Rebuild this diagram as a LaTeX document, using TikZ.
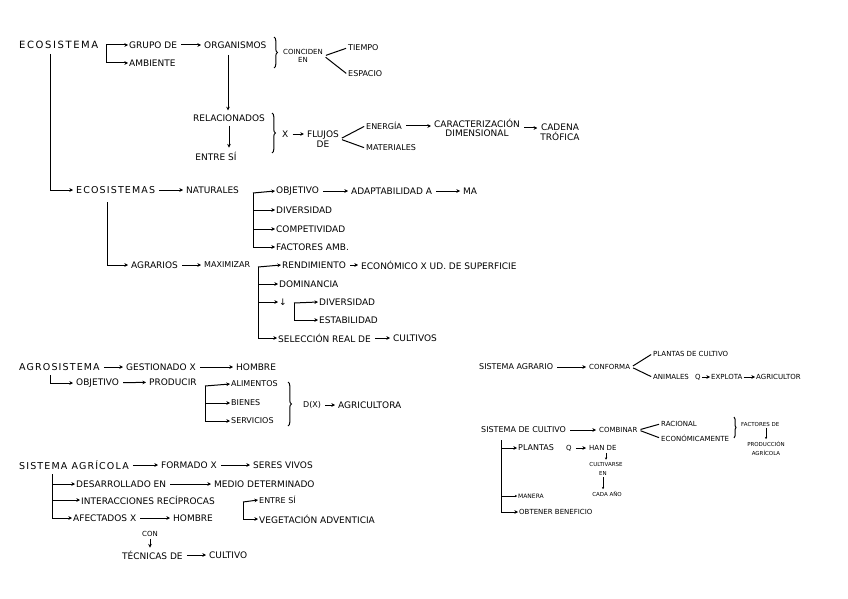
\documentclass[tikz,border=0pt]{standalone}
\usepackage{fontspec}
\setmainfont{DejaVu Sans}
\newfontfamily\titlefont[LetterSpace=12]{DejaVu Sans}
\newfontfamily\bigtitlefont[LetterSpace=16]{DejaVu Sans}
\usetikzlibrary{arrows.meta,decorations.pathreplacing,calc}
\tikzset{
 txt/.style={inner sep=1pt, anchor=west, font=\fontsize{9}{9.5}\selectfont},
 ctr/.style={txt, anchor=center, align=center},
 ttl/.style={inner sep=1pt, anchor=west, font=\titlefont\fontsize{9.5}{10}\selectfont},
 mid/.style={txt, font=\fontsize{8}{8.5}\selectfont},
 sml/.style={txt, font=\fontsize{7}{7.5}\selectfont},
 tny/.style={txt, font=\fontsize{5.5}{6}\selectfont},
 arr/.style={-{Stealth[length=3.6pt,width=3.6pt]}, line width=1pt},
 sarr/.style={arr, shorten <=3pt, shorten >=2pt},
 ln/.style={line width=1pt},
 brc/.style={decorate, decoration={brace,amplitude=3.5pt}, line width=1pt},
 smallarr/.style={-{Stealth[length=2.4pt,width=2.4pt]}, line width=0.8pt, shorten <=1pt, shorten >=1pt},
}
\begin{document}
\begin{tikzpicture}[x=1pt,y=-1pt]
\fill[white] (0,0) rectangle (848,599);
\useasboundingbox (0,0) rectangle (848,599);

% ---------------- ECOSISTEMA ----------------
\node[inner sep=1pt, anchor=west, font=\bigtitlefont\fontsize{10}{10.5}\selectfont] (eco) at (18,45) {ECOSISTEMA};
\node[txt] (grupo) at (128,45) {GRUPO DE};
\node[txt] (amb) at (128,63) {AMBIENTE};
\node[txt] (org) at (203,45) {ORGANISMOS};
\coordinate (k1) at (106,45);
\coordinate (k2) at (106,63);
\draw[ln] (k1) -- (k2);
\draw[arr] (k1) -- (grupo.west);
\draw[arr] (k2) -- (amb.west);
\draw[sarr] (grupo) -- (org);
\draw[brc] (274,37) -- (274,68);
\node[ctr, font=\fontsize{7}{7.5}\selectfont] (coin) at (303,56) {COINCIDEN\\EN};
\node[mid] (tiempo) at (347,48) {TIEMPO};
\node[mid] (espacio) at (347,74) {ESPACIO};
\draw[ln, shorten <=2pt, shorten >=1pt] (coin.east) -- (tiempo.west);
\draw[ln, shorten <=2pt, shorten >=1pt] (coin.east) -- (espacio.west);

\coordinate (o1) at (228,55);
\node[ctr] (rel) at (229,118) {RELACIONADOS};
\draw[arr, shorten >=3pt] (o1) -- (o1 |- rel.north);
\node[ctr] (entre1) at (216,156) {ENTRE SÍ};
\draw[arr, shorten <=3pt, shorten >=3pt] (rel.south) -- (rel.south |- entre1.north);
\draw[brc] (272,113) -- (272,153);
\node[txt] (x1) at (281,134) {X};
\node[ctr] (flujos) at (323,139) {FLUJOS\\DE};
\draw[sarr] (x1.east) -- (x1.east -| flujos.west);
\node[mid] (energia) at (365,126) {ENERGÍA};
\node[mid] (mat) at (365,148) {MATERIALES};
\draw[ln, shorten <=2pt, shorten >=1pt] (flujos.east) -- (energia.west);
\draw[ln, shorten <=2pt, shorten >=1pt] (flujos.east) -- (mat.west);
\node[ctr] (carac) at (477,128) {CARACTERIZACIÓN\\DIMENSIONAL};
\node[ctr] (cadena) at (560,132) {CADENA\\TRÓFICA};
\draw[sarr] (energia.east) -- (energia.east -| carac.west);
\draw[sarr] (carac.east) -- (carac.east -| cadena.west);

% ---------------- ECOSISTEMAS ----------------
\node[ttl] (ecos) at (75,190) {ECOSISTEMAS};
\coordinate (e1) at (50,54);
\draw[arr, shorten >=2pt] (e1) |- (ecos.west);
\node[txt] (nat) at (185,190) {NATURALES};
\draw[sarr] (ecos) -- (nat);
\coordinate (bx) at (253,193);
\node[txt] (obj1) at (275,191) {OBJETIVO};
\node[txt] (div1) at (275,210) {DIVERSIDAD};
\node[txt] (comp) at (275,229) {COMPETIVIDAD};
\node[txt] (fact) at (275,247) {FACTORES AMB.};
\draw[ln] (bx) -- (bx |- fact.west);
\draw[arr] (bx) -- (obj1.west);
\foreach \n in {div1,comp,fact} \draw[arr] (\n.west -| bx) -- (\n.west);
\node[txt] (adapt) at (350,191) {ADAPTABILIDAD A};
\node[txt] (ma) at (462,191) {MA};
\draw[sarr] (obj1) -- (adapt);
\draw[sarr] (adapt) -- (ma);

\node[txt] (agr) at (130,265) {AGRARIOS};
\coordinate (e2) at (107,202);
\draw[arr, shorten >=2pt] (e2) |- (agr.west);
\node[mid] (max) at (203,265) {MAXIMIZAR};
\draw[sarr] (agr) -- (max);
\coordinate (by) at (258,267);
\node[txt] (rend) at (281,265) {RENDIMIENTO};
\node[txt] (econ) at (360,265) {ECONÓMICO X UD. DE SUPERFICIE};
\node[txt] (dom) at (278,284) {DOMINANCIA};
\node[txt] (dn) at (278,302) {↓};
\node[txt] (div2) at (318,302) {DIVERSIDAD};
\node[txt] (est) at (318,320) {ESTABILIDAD};
\node[txt] (sel) at (277,338) {SELECCIÓN REAL DE};
\node[txt] (cult) at (392,338) {CULTIVOS};
\draw[ln] (by) -- (by |- sel.west);
\draw[arr] (by) -- (rend.west);
\foreach \n in {dom,dn,sel} \draw[arr] (\n.west -| by) -- (\n.west);
\draw[sarr] (rend) -- (econ);
\draw[sarr] (sel) -- (cult);
\coordinate (bz) at (294,303);
\draw[ln] (bz) -- (bz |- est.west);
\draw[arr] (bz) -- (div2.west);
\draw[arr] (est.west -| bz) -- (est.west);

% ---------------- AGROSISTEMA ----------------
\node[ttl] (agro) at (18,367) {AGROSISTEMA};
\node[txt] (gest) at (125,367) {GESTIONADO X};
\node[txt] (hom1) at (235,367) {HOMBRE};
\draw[sarr] (agro) -- (gest);
\draw[sarr] (gest) -- (hom1);
\node[txt] (obj2) at (75,383) {OBJETIVO};
\coordinate (e3) at (50,375);
\draw[arr, shorten >=2pt] (e3) |- (obj2.west);
\node[txt] (prod) at (148,382) {PRODUCIR};
\draw[sarr] (obj2) -- (prod);
\coordinate (bw) at (205,386);
\node[mid] (ali) at (230,384) {ALIMENTOS};
\node[mid] (bie) at (230,403) {BIENES};
\node[mid] (serv) at (230,421) {SERVICIOS};
\draw[ln] (bw) -- (bw |- serv.west);
\draw[arr] (bw) -- (ali.west);
\foreach \n in {bie,serv} \draw[arr] (\n.west -| bw) -- (\n.west);
\draw[brc] (288,382) -- (288,426);
\node[mid] (dx) at (302,405) {D(X)};
\node[txt] (agri) at (337,405) {AGRICULTORA};
\draw[sarr] (dx) -- (agri);

% ---------------- SISTEMA AGRICOLA ----------------
\node[ttl] (sa) at (18,465) {SISTEMA AGRÍCOLA};
\node[txt] (form) at (160,465) {FORMADO X};
\node[txt] (seres) at (252,465) {SERES VIVOS};
\draw[sarr] (sa) -- (form);
\draw[sarr] (form) -- (seres);
\coordinate (bv) at (52,474);
\node[txt] (des) at (75,484) {DESARROLLADO EN};
\node[txt] (medio) at (213,484) {MEDIO DETERMINADO};
\node[txt] (inter) at (80,500) {INTERACCIONES RECÍPROCAS};
\node[txt] (afec) at (72,518) {AFECTADOS X};
\node[txt] (hom2) at (172,518) {HOMBRE};
\draw[ln] (bv) -- (bv |- afec.west);
\foreach \n in {des,inter,afec} \draw[arr] (\n.west -| bv) -- (\n.west);
\draw[sarr] (des) -- (medio);
\draw[sarr] (afec) -- (hom2);
\coordinate (bu) at (243,502);
\node[mid] (entre2) at (258,500) {ENTRE SÍ};
\node[txt] (veg) at (258,519) {VEGETACIÓN ADVENTICIA};
\draw[ln] (bu) -- (bu |- veg.west);
\draw[arr] (bu) -- (entre2.west);
\draw[arr] (veg.west -| bu) -- (veg.west);
\node[sml, anchor=center] (con) at (150,534) {CON};
\node[txt] (tec) at (121,555) {TÉCNICAS DE};
\node[txt] (cult2) at (208,555) {CULTIVO};
\draw[arr, shorten <=1pt, shorten >=2pt] (con.south) -- (con.south |- tec.north);
\draw[sarr] (tec) -- (cult2);

% ---------------- SISTEMA AGRARIO ----------------
\node[mid] (sag) at (478,367) {SISTEMA AGRARIO};
\node[sml] (conf) at (588,367) {CONFORMA};
\draw[sarr] (sag) -- (conf);
\node[sml] (plan) at (652,354) {PLANTAS DE CULTIVO};
\node[sml] (anim) at (652,377) {ANIMALES};
\node[sml] (q1) at (694,377) {Q};
\node[sml] (expl) at (710,377) {EXPLOTA};
\node[sml] (agcr) at (755,377) {AGRICULTOR};
\draw[ln, shorten <=2pt, shorten >=1pt] (conf.east) -- (plan.west);
\draw[ln, shorten <=2pt, shorten >=1pt] (conf.east) -- (anim.west);
\draw[arr] (q1) -- (expl);
\draw[arr] (expl) -- (agcr);

% ---------------- SISTEMA DE CULTIVO ----------------
\node[mid] (sdc) at (480,430) {SISTEMA DE CULTIVO};
\node[sml] (comb) at (598,430) {COMBINAR};
\draw[sarr] (sdc) -- (comb);
\node[sml] (rac) at (660,424) {RACIONAL};
\node[sml] (ecom) at (660,438) {ECONÓMICAMENTE};
\draw[ln, shorten <=2pt, shorten >=1pt] (comb.east) -- (rac.west);
\draw[ln, shorten <=2pt, shorten >=1pt] (comb.east) -- (ecom.west);
\draw[decorate, decoration={brace,amplitude=2pt}, line width=1pt] (734,417) -- (734,438);
\node[tny] (facp) at (740,424) {FACTORES DE};
\node[tny, anchor=center] (prodc) at (766,444) {PRODUCCIÓN};
\node[tny, anchor=center] (agrc) at (766,453) {AGRÍCOLA};
\draw[smallarr] (facp.south -| prodc.north) -- (prodc.north);

\coordinate (bt) at (501,440);
\node[mid] (pla) at (517,448) {PLANTAS};
\node[sml] (q2) at (565,448) {Q};
\node[sml] (han) at (588,448) {HAN DE};
\node[tny, anchor=center] (cultv) at (606,464) {CULTIVARSE};
\node[tny, anchor=center] (en) at (603,473) {EN};
\node[tny, anchor=center] (cada) at (607,494) {CADA AÑO};
\node[txt, font=\fontsize{6}{6.5}\selectfont] (man) at (517,496) {MANERA};
\node[sml] (obt) at (518,512) {OBTENER BENEFICIO};
\draw[ln] (bt) -- (bt |- obt.west);
\draw[arr] (pla.west -| bt) -- (pla.west);
\draw[arr, -{Stealth[length=2pt,width=2.4pt]}] (man.west -| bt) -- (man.west);
\draw[arr] (obt.west -| bt) -- (obt.west);
\draw[sarr] (q2) -- (han);
\draw[smallarr] (han.south -| cultv.north) -- (cultv.north);
\draw[smallarr] (en.south) -- (en.south |- cada.north);
\end{tikzpicture}
\end{document}
